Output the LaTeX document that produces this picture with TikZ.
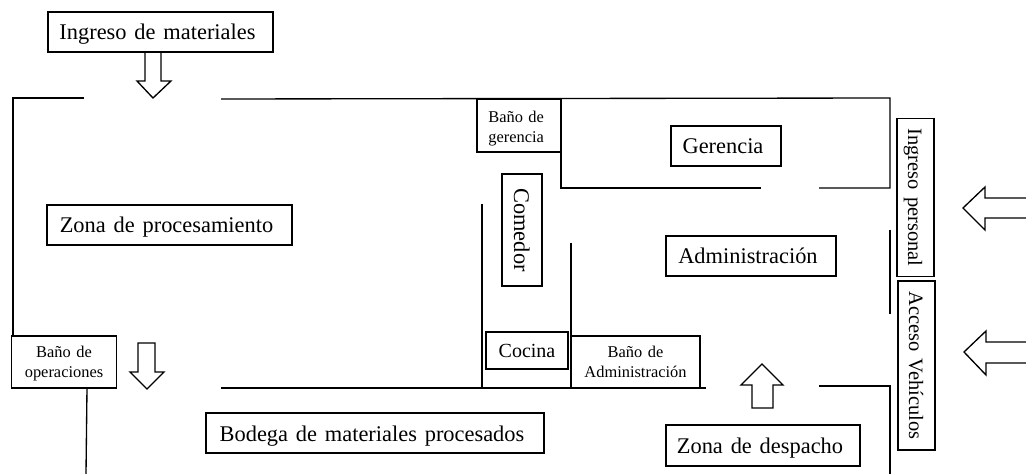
\documentclass[tikz,border=0pt]{standalone}
\usepackage{fontspec}
\setmainfont[WordSpace=1.4]{Liberation Serif}
\usepackage{tikz}

\begin{document}
\begin{tikzpicture}[x=0.75pt, y=-0.75pt,
                wall/.style={line width=1pt},
                block arrow/.style={line width=1pt, line join=miter},
                room box/.style 2 args={draw, line width=1pt, inner sep=0pt, align=center,
                        minimum width=#1*0.75pt, minimum height=#2*0.75pt},
                big font/.style={font=\fontsize{16.8}{20}\selectfont, text height=12pt, text depth=0pt},
                big label/.style={big font, execute at end node={\hspace*{4.5pt}}},
                side label/.style={font=\fontsize{15.3}{18}\selectfont, text height=11pt, text depth=0pt, rotate=-90},
                small label/.style={font=\fontsize{12.3}{15}\selectfont, text height=24pt, text depth=0pt}]
                \useasboundingbox (0,0) rectangle (1026,474);

                % Outer walls
                \draw[wall] (84,98) -- (13,98) -- (13,336);
                \draw[wall] (221,99) -- (890,98) -- (890,188) -- (819,188);
                \draw[wall] (890,230) -- (890,314);
                \draw[wall] (819,386) -- (890,386) -- (890,474);
                \draw[wall] (221,388) -- (706,388);
                \draw[wall] (87,388) -- (86,474);

                % Inner walls
                \draw[wall] (561,99) -- (561,188) -- (761,188);
                \draw[wall] (482,204) -- (482,388);
                \draw[wall] (571,243) -- (571,388);

                % Rooms and zones
                \node[room box={225}{40}, big label] (ingreso) at (160.5,32) {Ingreso de materiales};
                \node[room box={245}{40}, big label] (procesamiento) at (169.5,225) {Zona de procesamiento};
                \node[room box={338}{40}, big label] (bodega) at (375,433) {Bodega de materiales procesados};
                \node[room box={110}{40}, big label] (gerencia) at (726,146) {Gerencia};
                \node[room box={170}{40}, big label] (administracion) at (751,256) {Administración};
                \node[room box={194}{41}, big label] (despacho) at (763,445.5) {Zona de despacho};
                \node[room box={82}{37}, font=\fontsize{15}{18}\selectfont, text height=11pt, text depth=0pt] (cocina) at (527,350.5) {Cocina};
                \node[room box={112}{40}, big font, rotate=-90] (comedor) at (522,230) {Comedor};
                \node[room box={158}{37}, side label] (personal) at (915.5,197.5) {Ingreso personal};
                \node[room box={169}{37}, side label] (vehiculos) at (916.5,365.5) {Acceso Vehículos};

                % Bathrooms
                \node[room box={84}{53}, small label, text width=46pt, align=left, text height=9pt, text depth=13.5pt] (banogerencia) at (519,125.5) {Baño de\\gerencia};
                \node[room box={105}{52}, small label] (banooperaciones) at (64,362) {Baño de\\operaciones};
                \node[room box={129}{52}, small label] (banoadmin) at (635.5,362) {Baño de\\Administración};

                % Flow arrows
                \draw[block arrow] (145,52) -- (145,81) -- (137,81) -- (153,98) -- (171,81) -- (161,81) -- (161,52);
                \draw[block arrow] (138,343) -- (138,372) -- (130,372) -- (147,389) -- (164,372) -- (155,372) -- (155,343) -- cycle;
                \draw[block arrow] (752,408) -- (752,385) -- (741,385) -- (762,364) -- (783,385) -- (773,385) -- (773,408) -- cycle;
                \draw[block arrow] (1026,198) -- (985,198) -- (985,187) -- (963,208) -- (985,230) -- (985,218) -- (1026,218);
                \draw[block arrow] (1026,342) -- (986,342) -- (986,331) -- (964,352) -- (986,375) -- (986,363) -- (1026,363);
            \end{tikzpicture}
\end{document}
